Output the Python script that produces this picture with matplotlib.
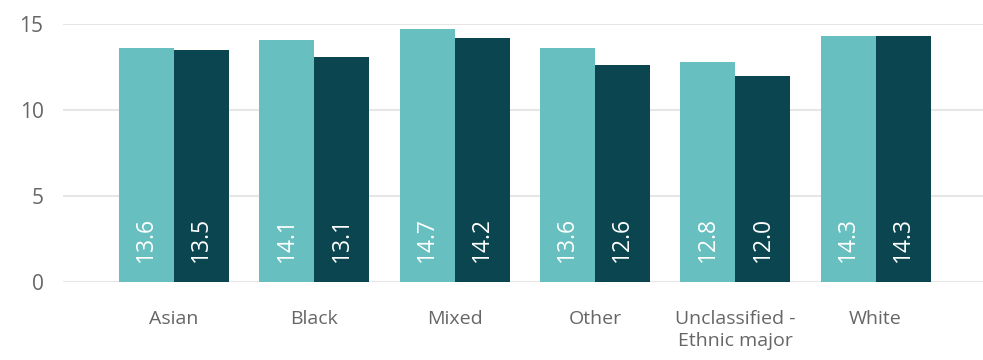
import numpy as np
import matplotlib.pyplot as plt

categories = ["Asian", "Black", "Mixed", "Other", "Unclassified -\nEthnic major", "White"]
series_a = [13.6, 14.1, 14.7, 13.6, 12.8, 14.3]
series_b = [13.5, 13.1, 14.2, 12.6, 12.0, 14.3]
yticks = [0, 5, 10, 15]

light = "#67BFBF"
dark = "#0B4650"
grey = "#666666"

plt.rcParams['font.family'] = ['Open Sans', 'DejaVu Sans']

fig = plt.figure(figsize=(9.83, 3.6), dpi=100)
ax = fig.add_axes([0.064, 0.217, 0.936, 0.716])

x = np.arange(len(categories))
w = 0.392

bars_a = ax.bar(x - w / 2, series_a, w, color=light, zorder=2)
bars_b = ax.bar(x + w / 2, series_b, w, color=dark, zorder=2)

# value labels written upwards near the foot of each bar
for bars, vals in ((bars_a, series_a), (bars_b, series_b)):
    for b, v in zip(bars, vals):
        ax.annotate(f"{v:.1f}", (b.get_x() + b.get_width() / 2, 0),
                    xytext=(0, 14), textcoords="offset points",
                    ha="center", va="bottom", rotation=90,
                    color="white", fontsize=16.5)

ax.set_xlim(-0.791, 5.766)
ax.set_ylim(0, 15)
ax.set_yticks(yticks)
ax.set_xticks(x)
ax.set_xticklabels(categories, linespacing=1.25)
ax.tick_params(axis="both", length=0, colors=grey, labelsize=14)
ax.tick_params(axis="x", pad=20.5)
ax.tick_params(axis="y", pad=14, labelsize=15)
ax.yaxis.grid(True, color="#E6E6E6", linewidth=1.5, zorder=0)
for s in ax.spines.values():
    s.set_visible(False)

fig.savefig("out.png", dpi=100)
